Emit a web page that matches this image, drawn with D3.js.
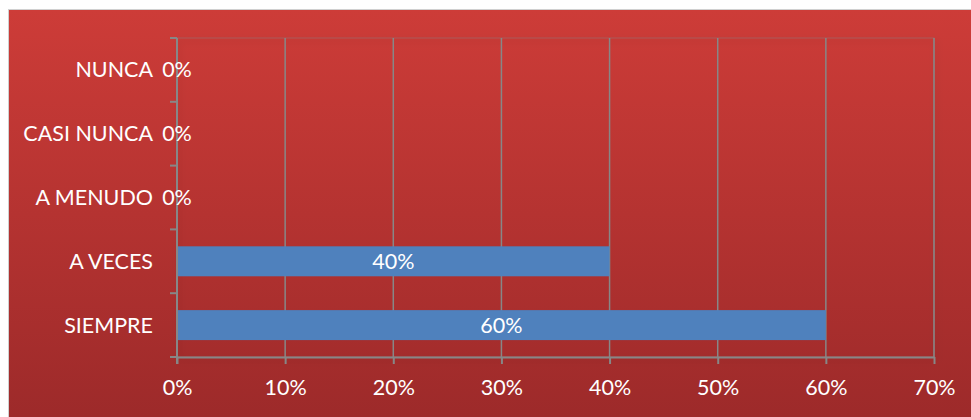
<!DOCTYPE html>
<html>
<head>
<meta charset="utf-8">
<script src="https://cdn.jsdelivr.net/npm/d3@7"></script>
<style>
  html, body { margin: 0; padding: 0; background: #fff; }
  svg { display: block; }
  text { font-family: Lato, "Open Sans", sans-serif; fill: #fff; }
</style>
</head>
<body>
<svg id="chart" width="971" height="417"></svg>
<script>
// Frequency of responses
const categories = ["NUNCA", "CASI NUNCA", "A MENUDO", "A VECES", "SIEMPRE"];
const values = [0, 0, 0, 0.40, 0.60];
const tickValues = [0, 0.1, 0.2, 0.3, 0.4, 0.5, 0.6, 0.7];

const W = 971, H = 417;
const FS = 21.5;
const svg = d3.select("#chart");
const defs = svg.append("defs");

const bg = defs.append("linearGradient").attr("id", "bg")
  .attr("x1", 0).attr("y1", 0).attr("x2", 0).attr("y2", 1);
bg.append("stop").attr("offset", "0%").attr("stop-color", "#cd3c38");
bg.append("stop").attr("offset", "100%").attr("stop-color", "#9d2a2a");

const sh = defs.append("filter").attr("id", "shadow")
  .attr("x", "-5%").attr("y", "-5%").attr("width", "110%").attr("height", "115%");
sh.append("feDropShadow").attr("dx", 2).attr("dy", 3).attr("stdDeviation", 3)
  .attr("flood-color", "#000").attr("flood-opacity", 0.25);

// chart background with thin outer shadow
svg.append("rect").attr("x", 8).attr("y", 9).attr("width", W - 8).attr("height", H - 9)
  .attr("fill", "#d0d0d0");
svg.append("rect").attr("x", 9).attr("y", 10).attr("width", W - 9).attr("height", H - 10)
  .attr("fill", "url(#bg)");

const m = { left: 177, right: 934, top: 38, bottom: 357 };

const x = d3.scaleLinear().domain([0, 0.7]).range([m.left, m.right]);
const y = d3.scaleBand().domain(categories).range([m.top, m.bottom])
  .paddingInner(0.53).paddingOuter(0.265);
const yOuter = d3.scaleBand().domain(categories).range([m.top, m.bottom]);

const gridColor = "#878787";

// plot area
svg.append("rect").attr("x", m.left).attr("y", m.top)
  .attr("width", m.right - m.left).attr("height", m.bottom - m.top)
  .attr("fill", "none").attr("stroke", "rgba(150,110,110,0.6)").attr("stroke-width", 1)
  .attr("filter", "url(#shadow)");

// vertical gridlines
svg.append("g").selectAll("line").data(tickValues.slice(1)).join("line")
  .attr("x1", d => x(d)).attr("x2", d => x(d))
  .attr("y1", m.top).attr("y2", m.bottom)
  .attr("stroke", gridColor).attr("stroke-width", 1.5);

// bars
svg.append("g").selectAll("rect").data(categories).join("rect")
  .attr("x", x(0))
  .attr("y", d => y(d))
  .attr("width", (d, i) => x(values[i]) - x(0))
  .attr("height", y.bandwidth())
  .attr("fill", "#4f81bd");

// x axis
const xAxis = d3.axisBottom(x).tickValues(tickValues)
  .tickFormat(d3.format(".0%")).tickSize(7).tickSizeOuter(0).tickPadding(16);
const gx = svg.append("g").attr("transform", `translate(0,${m.bottom})`).call(xAxis);
gx.select(".domain").attr("stroke", gridColor).attr("stroke-width", 2);
gx.selectAll(".tick line").attr("stroke", gridColor).attr("stroke-width", 2);
gx.selectAll(".tick text").attr("font-size", FS).attr("fill", "#fff")
  .attr("font-family", "Lato, 'Open Sans', sans-serif");

// y axis: ticks at band boundaries, labels at band centres
const gy = svg.append("g");
gy.append("line").attr("x1", m.left).attr("x2", m.left)
  .attr("y1", m.top).attr("y2", m.bottom + 7)
  .attr("stroke", gridColor).attr("stroke-width", 2);
const bounds = categories.map(c => yOuter(c)).concat([m.bottom]);
gy.selectAll("line.t").data(bounds).join("line").attr("class", "t")
  .attr("x1", m.left - 7).attr("x2", m.left)
  .attr("y1", d => d).attr("y2", d => d)
  .attr("stroke", gridColor).attr("stroke-width", 2);
gy.selectAll("text").data(categories).join("text")
  .attr("x", 153)
  .attr("y", d => yOuter(d) + yOuter.bandwidth() / 2)
  .attr("dy", "0.35em")
  .attr("text-anchor", "end")
  .attr("font-size", FS)
  .text(d => d);

// data labels centred on each bar
svg.append("g").selectAll("text").data(categories).join("text")
  .attr("x", (d, i) => (x(0) + x(values[i])) / 2)
  .attr("y", d => y(d) + y.bandwidth() / 2)
  .attr("dy", "0.35em")
  .attr("text-anchor", "middle")
  .attr("font-size", FS)
  .text((d, i) => d3.format(".0%")(values[i]));
</script>
</body>
</html>
